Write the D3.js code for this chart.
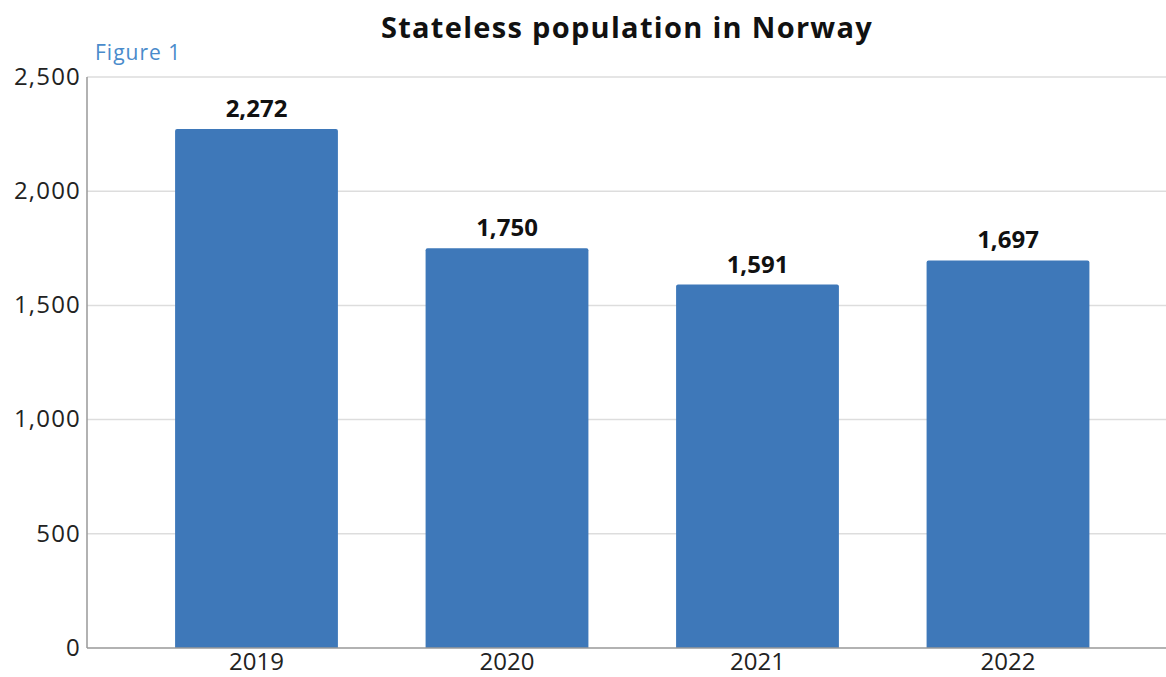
<!DOCTYPE html>
<html><head><meta charset="utf-8">
<script src="https://cdn.jsdelivr.net/npm/d3@7"></script>
<style>body{margin:0;background:#fff;} svg{display:block;font-family:"Open Sans",sans-serif;}</style>
</head><body>
<script>
const categories = ["2019","2020","2021","2022"];
const values = [2272,1750,1591,1697];
const yTicks = [0,500,1000,1500,2000,2500];
const title = "Stateless population in Norway";
const figLabel = "Figure 1";

(function(){
const W=1166,H=677;
const svg=d3.select("body").append("svg").attr("width",W).attr("height",H);
const mLeft=87,mRight=1166,mTop=77,mBottom=648;
const y=d3.scaleLinear().domain([0,2500]).range([mBottom,mTop]);
const x=d3.scaleBand().domain(categories).range([131.25,1133.25]).paddingInner(0.35).paddingOuter(0.175);
const fmt=d3.format(",");
const FF='"Open Sans",sans-serif';

svg.append("g").selectAll("line").data(yTicks.filter(d=>d>0)).join("line")
  .attr("x1",mLeft).attr("x2",mRight).attr("y1",d=>y(d)).attr("y2",d=>y(d))
  .attr("stroke","#dddddd").attr("stroke-width",1.5);

const ya=svg.append("g").attr("transform",`translate(${mLeft},0)`)
  .call(d3.axisLeft(y).tickValues(yTicks).tickFormat(fmt).tickSize(0).tickPadding(6));
ya.select(".domain").remove();
ya.selectAll("text").attr("font-size",24).attr("fill","#222").attr("font-family",FF)
  .attr("letter-spacing",1.2).attr("dy","0.3em");

svg.append("g").selectAll("path").data(values).join("path")
  .attr("fill","#3e78b9")
  .attr("d",(d,i)=>{const x0=x(categories[i]),w=x.bandwidth(),y0=y(d),r=2;
    return `M${x0},${mBottom}V${y0+r}Q${x0},${y0} ${x0+r},${y0}H${x0+w-r}Q${x0+w},${y0} ${x0+w},${y0+r}V${mBottom}Z`;});

svg.append("g").selectAll("text").data(values).join("text")
  .attr("x",(d,i)=>x(categories[i])+x.bandwidth()/2).attr("y",d=>y(d)-12)
  .attr("text-anchor","middle").attr("font-size",24).attr("font-weight","bold").attr("fill","#111")
  .attr("font-family",FF).text(d=>fmt(d));

svg.append("line").attr("x1",mLeft).attr("x2",mLeft).attr("y1",mTop).attr("y2",mBottom).attr("stroke","#999").attr("stroke-width",1.5);
const xa=svg.append("g").attr("transform",`translate(0,${mBottom})`)
  .call(d3.axisBottom(x).tickSize(0).tickPadding(5));
xa.select(".domain").remove();
xa.selectAll("text").attr("font-size",24).attr("fill","#222").attr("font-family",FF);
svg.append("line").attr("x1",mLeft).attr("x2",mRight).attr("y1",mBottom).attr("y2",mBottom).attr("stroke","#999").attr("stroke-width",1.5);

svg.append("text").attr("x",627).attr("y",38).attr("text-anchor","middle").attr("font-family",FF)
  .attr("font-size",29).attr("font-weight","bold").attr("letter-spacing",1.3).attr("fill","#111").text(title);
svg.append("text").attr("x",95).attr("y",60).attr("font-size",21).attr("letter-spacing",1).attr("fill","#4a8bcb").attr("font-family",FF).text(figLabel);
})();
</script>
</body></html>
